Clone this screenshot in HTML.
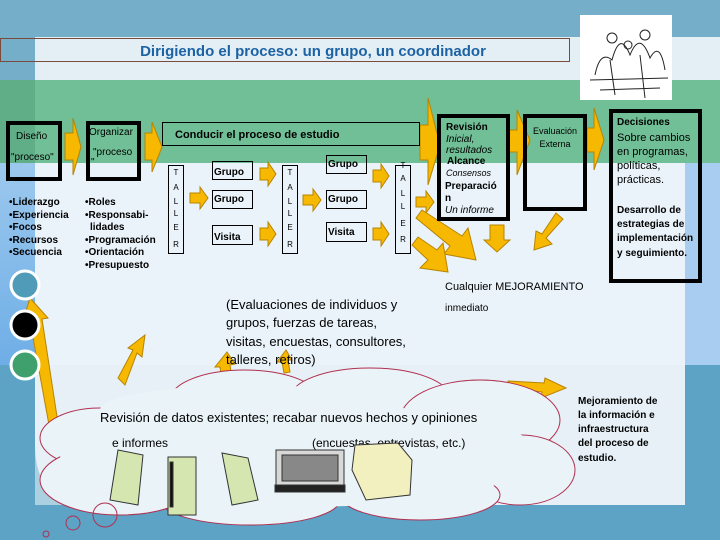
<!DOCTYPE html>
<html><head><meta charset="utf-8"><style>
html,body{margin:0;padding:0;}
body{width:720px;height:540px;overflow:hidden;font-family:"Liberation Sans",sans-serif;}
</style></head><body>
<svg width="720" height="540" viewBox="0 0 720 540" xmlns="http://www.w3.org/2000/svg" font-family="Liberation Sans, sans-serif">
<defs>
<linearGradient id="lc" x1="0" y1="0" x2="0" y2="1"><stop offset="0" stop-color="#9cc8ee"/><stop offset="1" stop-color="#6eaee6"/></linearGradient>
</defs>
<rect width="720" height="540" fill="#5ca3c6"/>
<rect width="720" height="37" fill="#75aec8"/>
<rect x="0" y="37" width="35" height="43" fill="#75aec8"/>
<rect x="35" y="37" width="685" height="43" fill="#e3eff5"/>
<rect x="0" y="80" width="35" height="83" fill="#5fae87"/>
<rect x="35" y="80" width="685" height="83" fill="#70bf96"/>
<rect x="0" y="163" width="35" height="202" fill="url(#lc)"/>
<rect x="685" y="163" width="35" height="202" fill="#a8cdf0"/>
<path d="M35 163 H685 V505 H95 Q35 505 35 445 Z" fill="#eaf3fa"/>
<rect x="35" y="365" width="650" height="140" fill="#e2eef3" opacity="0.6"/>
<!-- title -->
<rect x="0.5" y="38.5" width="569" height="23" fill="none" stroke="#7a4a3a" stroke-width="1"/>
<text x="313" y="56" text-anchor="middle" font-size="15" font-weight="bold" fill="#1c62a4">Dirigiendo el proceso: un grupo, un coordinador</text>
<!-- picture -->
<rect x="580" y="15" width="92" height="85" fill="#fff"/>
<g stroke="#222" fill="none" stroke-width="1">
<path d="M595 75 Q600 50 612 60 Q620 30 630 55 Q640 30 650 58 Q660 40 665 70 M590 80 L668 78 M600 90 L660 88 M610 60 L615 95 M640 55 L645 98"/>
<circle cx="612" cy="38" r="5"/><circle cx="645" cy="35" r="5"/><circle cx="628" cy="45" r="4"/>
</g>
<!-- yellow arrows -->
<g fill="#f6b800" stroke="#b88400" stroke-width="1">
<polygon points="65,133 73,133 73,118 81,147 73,175 73,160 65,160"/>
<polygon points="145,133 152,133 152,122 162,147 152,172 152,160 145,160"/>
<polygon points="420,125 428,125 428,98 440,145 428,185 428,160 420,160"/>
<polygon points="509,130 517,130 517,110 530,140 517,175 517,152 509,152"/>
<polygon points="587,128 594,128 594,108 604,140 594,170 594,152 587,152"/>
<!-- between taller / grupo -->
<polygon points="190,193 200,193 200,187 208,198 200,209 200,203 190,203"/>
<polygon points="260,168 268,168 268,162 276,174 268,186 268,180 260,180"/>
<polygon points="260,228 268,228 268,222 276,234 268,246 268,240 260,240"/>
<polygon points="303,195 313,195 313,189 321,200 313,211 313,205 303,205"/>
<polygon points="373,170 381,170 381,164 389,176 381,188 381,182 373,182"/>
<polygon points="373,228 381,228 381,222 389,234 381,246 381,240 373,240"/>
<polygon points="416,197 426,197 426,191 434,202 426,213 426,207 416,207"/>
<!-- down diagonals -->
<polygon points="416,218 422,210 462,236 468,228 476,260 444,254 450,246"/>
<polygon points="412,245 418,237 437,250 443,243 448,272 420,268 428,260"/>
<polygon points="490,225 504,225 504,240 510,240 497,252 484,240 490,240"/>
<polygon points="556,213 563,219 546,238 552,244 534,250 536,231 542,234"/>
<!-- bottom arrows -->
<polygon points="49,425 58,423 42,319 48,318 30,298 23,321 30,321"/>
<polygon points="118,378 125,385 137,353 142,357 145,335 128,348 133,350"/>
<polygon points="222,380 232,378 230,365 235,364 227,352 215,367 220,367"/>
<polygon points="284,373 290,372 288,360 292,360 286,350 277,362 282,362"/>
<polygon points="508,381 510,388 542,392 541,398 566,388 545,378 544,383"/>
</g>
<!-- boxes -->
<g fill="none" stroke="#000">
<rect x="8" y="123" width="52" height="56" stroke-width="4"/>
<rect x="88" y="123" width="51" height="56" stroke-width="4"/>
<rect x="162.5" y="122.5" width="257" height="23"/>
<rect x="168.5" y="165.5" width="15" height="88"/>
<rect x="282.5" y="165.5" width="15" height="88"/>
<rect x="395.5" y="165.5" width="15" height="88"/>
<rect x="212.5" y="161.5" width="40" height="18"/>
<rect x="212.5" y="190.5" width="40" height="18"/>
<rect x="212.5" y="225.5" width="40" height="19"/>
<rect x="326.5" y="155.5" width="40" height="18"/>
<rect x="326.5" y="190.5" width="40" height="18"/>
<rect x="326.5" y="222.5" width="40" height="19"/>
<rect x="439" y="116" width="69" height="103" stroke-width="4"/>
<rect x="525" y="116" width="60" height="93" stroke-width="4"/>
<rect x="611" y="111" width="89" height="170" stroke-width="4"/>
</g>
<g font-size="10" fill="#000">
<text x="16" y="139">Diseño</text>
<text x="11" y="160">"proceso"</text>
<text x="89" y="135">Organizar</text>
<text x="93" y="155">"proceso</text>
<text x="91" y="165">"</text>
</g>
<text x="175" y="138" font-size="11" font-weight="bold">Conducir el proceso de estudio</text>
<g font-size="10" font-weight="bold">
<text x="9" y="205">•Liderazgo</text><text x="9" y="218">•Experiencia</text><text x="9" y="230">•Focos</text><text x="9" y="243">•Recursos</text><text x="9" y="255">•Secuencia</text>
<text x="85" y="205">•Roles</text><text x="85" y="218">•Responsabi-</text><text x="90" y="230">lidades</text><text x="85" y="243">•Programación</text><text x="85" y="255">•Orientación</text><text x="85" y="268">•Presupuesto</text>
<text x="214" y="175">Grupo</text><text x="214" y="202">Grupo</text><text x="214" y="240">Visita</text>
<text x="328" y="167">Grupo</text><text x="328" y="202">Grupo</text><text x="328" y="235">Visita</text>
</g>
<g font-size="8" text-anchor="middle">
<text x="176" y="175">T</text><text x="176" y="190">A</text><text x="176" y="204">L</text><text x="176" y="216">L</text><text x="176" y="230">E</text><text x="176" y="247">R</text>
<text x="290" y="175">T</text><text x="290" y="190">A</text><text x="290" y="204">L</text><text x="290" y="216">L</text><text x="290" y="230">E</text><text x="290" y="247">R</text>
<text x="403" y="168">T</text><text x="403" y="181">A</text><text x="403" y="196">L</text><text x="403" y="209">L</text><text x="403" y="226">E</text><text x="403" y="242">R</text>
</g>
<g font-size="10">
<text x="446" y="130" font-weight="bold">Revisión</text>
<text x="446" y="142" font-style="italic">Inicial,</text>
<text x="446" y="153" font-style="italic">resultados</text>
<text x="447" y="164" font-weight="bold">Alcance</text>
<text x="446" y="176" font-style="italic" font-size="9">Consensos</text>
<text x="445" y="189" font-weight="bold">Preparació</text>
<text x="445" y="201" font-weight="bold">n</text>
<text x="445" y="213" font-style="italic">Un informe</text>
<text x="555" y="134" text-anchor="middle" font-size="9">Evaluación</text>
<text x="555" y="147" text-anchor="middle" font-size="9">Externa</text>
<text x="617" y="125" font-weight="bold">Decisiones</text>
<text x="617" y="141" font-size="11">Sobre cambios</text>
<text x="617" y="155" font-size="11">en programas,</text>
<text x="617" y="169" font-size="11">políticas,</text>
<text x="617" y="183" font-size="11">prácticas.</text>
<text x="617" y="213" font-weight="bold">Desarrollo de</text>
<text x="617" y="227" font-weight="bold">estrategias de</text>
<text x="617" y="241" font-weight="bold">implementación</text>
<text x="617" y="256" font-weight="bold">y seguimiento.</text>
</g>
<g font-size="11">
<text x="445" y="290">Cualquier MEJORAMIENTO</text>
<text x="445" y="311" font-size="10">inmediato</text>
</g>
<g font-size="13">
<text x="226" y="309">(Evaluaciones de individuos y</text>
<text x="226" y="327">grupos, fuerzas de tareas,</text>
<text x="226" y="346">visitas, encuestas, consultores,</text>
<text x="226" y="364">talleres, retiros)</text>
</g>
<!-- circles -->
<circle cx="25" cy="285" r="14" fill="#4f9bb8" stroke="#fff" stroke-width="3"/>
<circle cx="25" cy="325" r="14" fill="#000" stroke="#fff" stroke-width="3"/>
<circle cx="25" cy="365" r="14" fill="#3fa06e" stroke="#fff" stroke-width="3"/>
<!-- cloud -->
<g fill="#eaf3f8" stroke="#b03050" stroke-width="1">
<ellipse cx="100" cy="438" rx="60" ry="30"/>
<ellipse cx="245" cy="400" rx="75" ry="30"/>
<ellipse cx="370" cy="398" rx="80" ry="30"/>
<ellipse cx="480" cy="420" rx="80" ry="40"/>
<ellipse cx="520" cy="470" rx="55" ry="35"/>
<ellipse cx="420" cy="495" rx="80" ry="25"/>
<ellipse cx="250" cy="500" rx="90" ry="25"/>
<ellipse cx="120" cy="480" rx="80" ry="35"/>
</g>
<g fill="#eaf3f8">
<ellipse cx="300" cy="455" rx="240" ry="52"/>
<ellipse cx="250" cy="410" rx="150" ry="25"/>
</g>
<g fill="none" stroke="#b03050" stroke-width="1">
<circle cx="105" cy="515" r="12"/><circle cx="73" cy="523" r="7"/><circle cx="46" cy="534" r="3"/>
</g>
<text x="100" y="422" font-size="13">Revisión de datos existentes; recabar nuevos hechos y opiniones</text>
<text x="112" y="447" font-size="12">e informes</text>
<text x="312" y="447" font-size="12">(encuestas, entrevistas, etc.)</text>
<!-- icons -->
<g stroke="#333" stroke-width="1">
<polygon points="118,450 143,455 138,505 110,500" fill="#d5e6b0"/>
<rect x="168" y="457" width="28" height="58" fill="#d5e6b0"/>
<rect x="170" y="462" width="3" height="45" fill="#111"/>
<polygon points="222,453 248,458 258,500 232,505" fill="#d5e6b0"/>
<rect x="276" y="450" width="68" height="35" fill="#d8d8d8"/>
<rect x="282" y="455" width="56" height="26" fill="#888"/>
<polygon points="275,485 345,485 345,492 275,492" fill="#222"/>
<polygon points="355,445 398,443 412,460 410,495 366,500 352,470" fill="#f3f0c0"/>
</g>
<text x="578" y="404" font-size="10" font-weight="bold">Mejoramiento de</text>
<text x="578" y="418" font-size="10" font-weight="bold">la información e</text>
<text x="578" y="432" font-size="10" font-weight="bold">infraestructura</text>
<text x="578" y="446" font-size="10" font-weight="bold">del proceso de</text>
<text x="578" y="461" font-size="10" font-weight="bold">estudio.</text>
</svg>
</body></html>
